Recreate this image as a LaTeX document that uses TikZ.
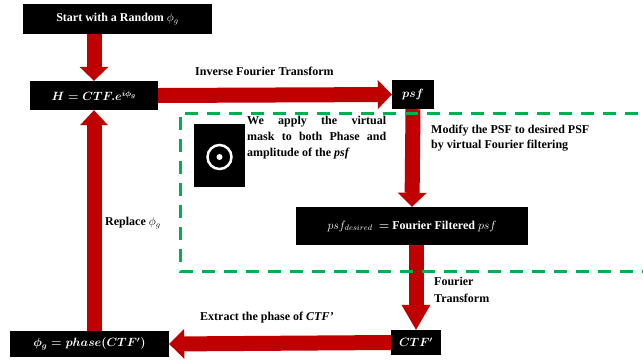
\documentclass[tikz,border=0pt]{standalone}
\usepackage{fontspec}
\setmainfont{Liberation Serif}
\usetikzlibrary{arrows.meta}
\definecolor{arrred}{HTML}{C00000}
\definecolor{dashgreen}{HTML}{00B050}
\begin{document}
\begin{tikzpicture}[x=1pt,y=-1pt,
  blackbox/.style={fill=black,text=white,font=\fontsize{12}{14}\selectfont\bfseries\boldmath,inner sep=0pt,anchor=center},
  bigarrow/.style={draw=arrred,line width=15pt},
  lbl/.style={font=\fontsize{12}{14}\selectfont\bfseries,inner sep=0pt,anchor=west,align=left},
  greendash/.style={draw=dashgreen,line width=3pt,dash pattern=on 13pt off 9pt}]
\useasboundingbox (0,0) rectangle (643,362);
% boxes
\node[blackbox,minimum width=189pt,minimum height=30pt] (start) at (117.5,19) {Start with a Random {\unboldmath$\phi_g$}};
\node[blackbox,minimum width=128pt,minimum height=29pt] (H) at (94,95.5) {$H = CTF.e^{i\phi_g}$};
\node[blackbox,minimum width=42pt,minimum height=29pt] (psf) at (413,94.5) {$psf$};
\node[blackbox,minimum width=232pt,minimum height=38pt] (psfd) at (412,226) {{\unboldmath$psf_{desired}$} \ $=$ Fourier Filtered {\unboldmath$psf$}};
\node[blackbox,minimum width=50pt,minimum height=25pt] (ctf) at (416,342.5) {$CTF'$};
\node[blackbox,minimum width=159pt,minimum height=26pt] (phase) at (89.5,344) {$\phi_g = phase(CTF')$};
% mask picture
\node[fill=black,minimum width=51pt,minimum height=63pt,inner sep=0pt] (mask) at (219.5,155.5) {};
\draw[white,line width=2.5pt] ([yshift=-1.5pt]mask.center) circle[radius=12pt];
\fill[white] ([yshift=-1.5pt]mask.center) circle[radius=3pt];
% labels
\node[lbl,font=\fontsize{12}{16}\selectfont\bfseries,text width=139pt,align=justify,anchor=north west] (para) at (247,116) {We apply the virtual\linebreak mask to both Phase and\linebreak amplitude of the \textit{psf}};
\node[lbl] (lift) at (195,71) {Inverse Fourier Transform};
\node[lbl,font=\fontsize{12}{15}\selectfont\bfseries] (lmod) at (431,138.5) {Modify the PSF to desired PSF\\by virtual Fourier filtering};
\node[lbl,font=\fontsize{12}{17}\selectfont\bfseries] (lft) at (434,289.5) {Fourier\\Transform};
\node[lbl] (lext) at (200,318) {Extract the phase of \textit{CTF'}};
\node[lbl] (lrep) at (105,223) {Replace $\phi_g$};
% arrows
\draw[bigarrow,-{Triangle[length=14pt,width=29pt,line width=0pt]}] (start.south -| H.north) -- (H.north);
\draw[bigarrow,-{Triangle[length=14pt,width=29pt,line width=0pt]}] (H.east) -- (psf.west);
\draw[bigarrow,-{Triangle[length=14pt,width=29pt,line width=0pt]}] (psf.south) -- (psfd.north);
\draw[bigarrow,-{Triangle[length=25pt,width=29pt,line width=0pt]}] (psfd.south -| ctf.north) -- (ctf.north);
\draw[bigarrow,-{Triangle[length=15pt,width=30pt,line width=0pt]}] (ctf.west) -- (phase.east);
\draw[bigarrow,-{Triangle[length=15pt,width=28pt,line width=0pt]}] (phase.north -| H.south) -- (H.south);
% dashed region
\draw[greendash] (660,113) -| (180,271) -- (660,271);
\end{tikzpicture}
\end{document}
